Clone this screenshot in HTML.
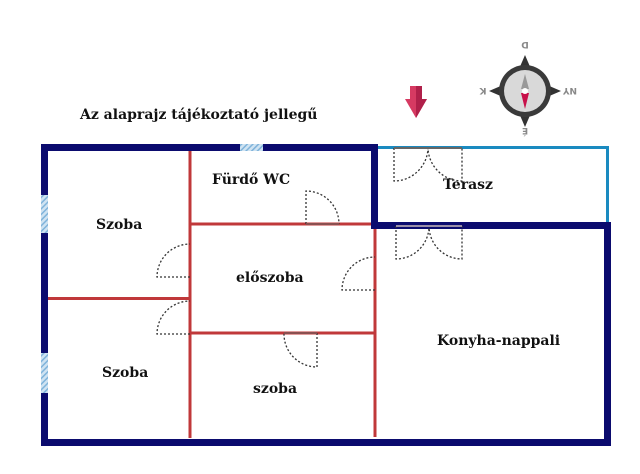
<!DOCTYPE html>
<html><head><meta charset="utf-8"><style>
html,body{margin:0;padding:0;background:#fff;width:640px;height:474px;overflow:hidden}
svg text{font-family:"DejaVu Serif","Liberation Serif",serif;font-weight:bold;fill:#111}
</style></head><body>
<svg width="640" height="474" viewBox="0 0 640 474" xmlns="http://www.w3.org/2000/svg">
<defs>
<pattern id="h" width="4" height="4" patternUnits="userSpaceOnUse" patternTransform="rotate(45)">
<rect width="4" height="4" fill="#cfe3f2"/><rect width="1.5" height="4" fill="#7fb3da"/></pattern>
</defs>
<text x="80" y="119" font-size="14">Az alaprajz tájékoztató jellegű</text>
<polyline points="378,147.5 607.5,147.5 607.5,222" fill="none" stroke="#1a8ac0" stroke-width="3"/>
<g stroke="#c0383a" stroke-width="3" fill="none">
<line x1="190" y1="151" x2="190" y2="438"/>
<line x1="190" y1="224" x2="371" y2="224"/>
<line x1="375" y1="229" x2="375" y2="437"/>
<line x1="190" y1="333" x2="375" y2="333"/>
<line x1="48" y1="298.5" x2="190" y2="298.5"/>
</g>
<g stroke="#0b0b6e" stroke-width="7" fill="none" stroke-linecap="square">
<polyline points="44.5,147.5 374.5,147.5 374.5,225.5 607.5,225.5 607.5,442.5 44.5,442.5 44.5,147.5"/>
</g>
<rect x="240" y="144" width="23" height="7" fill="url(#h)"/>
<rect x="41" y="195" width="7" height="38" fill="url(#h)"/>
<rect x="41" y="353" width="7" height="40" fill="url(#h)"/>
<g fill="none" stroke="#333" stroke-width="1.3" stroke-dasharray="2,2">
<path d="M306,224 V191 A33,33 0 0 1 339,224"/>
<path d="M190,277 H157 A33,33 0 0 1 190,244"/>
<path d="M190,334 H157 A33,33 0 0 1 190,301"/>
<path d="M375,290 H342 A33,33 0 0 1 375,257"/>
<path d="M317,333 V367 A33,33 0 0 1 284,333"/>
<path d="M394,148 V181 A34,34 0 0 0 428,148 A34,34 0 0 0 462,181 V148"/>
<path d="M396,226 V259 A33,33 0 0 0 429,226 A33,33 0 0 0 462,259 V226"/>
</g>
<line x1="394" y1="148" x2="462" y2="148" stroke="#666" stroke-width="2"/>
<line x1="396" y1="226" x2="462" y2="226" stroke="#9a8fa8" stroke-width="2"/>
<line x1="306" y1="224" x2="339" y2="224" stroke="#8a5050" stroke-width="2"/>
<line x1="284" y1="333" x2="317" y2="333" stroke="#8a5050" stroke-width="2"/>
<text x="96" y="229" font-size="14">Szoba</text>
<text x="102" y="377" font-size="14">Szoba</text>
<text x="212" y="184" font-size="14">Fürdő WC</text>
<text x="236" y="282" font-size="14">előszoba</text>
<text x="253" y="393" font-size="14">szoba</text>
<text x="443" y="189" font-size="14">Terasz</text>
<text x="437" y="345" font-size="14">Konyha-nappali</text>
<polygon points="410,86 422,86 422,99 427,99 416,118 405,99 410,99" fill="#d63a62"/>
<polygon points="416,86 422,86 422,99 427,99 416,118" fill="#b0204a"/>
<g transform="translate(525,91)">
<polygon points="0,-36 6,-22 -6,-22" fill="#333"/>
<polygon points="0,36 6,22 -6,22" fill="#333"/>
<polygon points="-36,0 -22,6 -22,-6" fill="#333"/>
<polygon points="36,0 22,6 22,-6" fill="#333"/>
<circle r="26" fill="#3a3a3a"/>
<circle r="21" fill="#d9d9d9"/>
<polygon points="0,-17 4,-2 -4,-2" fill="#999"/>
<polygon points="0,18 4,2 -4,2" fill="#c8104a"/>
<circle r="3" fill="#fff"/>
<g font-size="9">
<text x="0" y="-43" transform="rotate(180 0 -46)" text-anchor="middle" style="fill:#888;font-family:'DejaVu Sans',sans-serif">D</text>
<text x="0" y="43" transform="rotate(180 0 40)" text-anchor="middle" style="fill:#888;font-family:'DejaVu Sans',sans-serif">É</text>
<text x="-42" y="3" transform="rotate(180 -42 0)" text-anchor="middle" style="fill:#888;font-family:'DejaVu Sans',sans-serif">K</text>
<text x="45" y="3" transform="rotate(180 45 0)" text-anchor="middle" style="fill:#888;font-family:'DejaVu Sans',sans-serif">NY</text>
</g>
</g>
</svg>
</body></html>
